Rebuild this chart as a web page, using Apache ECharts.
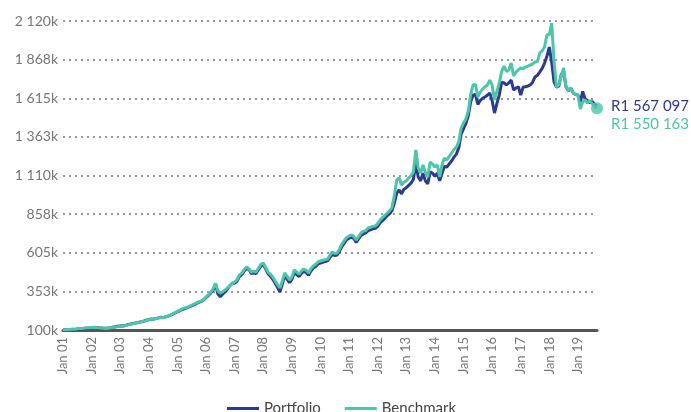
<!DOCTYPE html>
<html>
<head>
<meta charset="utf-8">
<script src="https://cdn.jsdelivr.net/npm/echarts@6/dist/echarts.min.js"></script>
<style>
  html, body { margin: 0; padding: 0; background: #fff; }
  #chart { width: 691px; height: 412px; }
</style>
</head>
<body>
<div id="chart"></div>
<script>
// values in thousands (R k), monthly Jan 2001 .. Sep 2019
const years = ['01','02','03','04','05','06','07','08','09','10','11','12','13','14','15','16','17','18','19'];
const months = ['Jan','Feb','Mar','Apr','May','Jun','Jul','Aug','Sep','Oct','Nov','Dec'];
const lastMonths = 9; // 2019 runs to Sep

const portfolio = [
  100, 101, 100, 102, 104, 104, 106, 108, 107, 110, 112, 112,
  114, 116, 116, 114, 113, 112, 111, 113, 115, 118, 121, 124,
  127, 126, 129, 134, 138, 141, 144, 147, 151, 155, 159, 164,
  168, 172, 171, 176, 179, 183, 181, 186, 191, 197, 204, 212,
  218, 226, 234, 240, 245, 252, 258, 266, 274, 280, 287, 296,
  312, 325, 342, 362, 398, 335, 318, 335, 350, 368, 390, 405,
  406, 420, 450, 462, 485, 502, 495, 470, 472, 470, 495, 518,
  528, 500, 468, 452, 432, 405, 378, 348, 400, 455, 432, 410,
  430, 475, 462, 450, 470, 485, 475, 458, 486, 505, 515, 532,
  538, 542, 548, 552, 575, 595, 587, 590, 615, 645, 668, 690,
  700, 706, 698, 672, 695, 718, 728, 735, 750, 755, 762, 765,
  778, 800, 815, 830, 848, 860, 880, 930, 995, 1015, 990, 1020,
  1030, 1045, 1060, 1085, 1190, 1100, 1075, 1125, 1075, 1055, 1135, 1125,
  1105, 1125, 1075, 1125, 1170, 1165, 1185, 1205, 1230, 1250, 1290, 1380,
  1415, 1450, 1500, 1590, 1636, 1640, 1575, 1600, 1615, 1623, 1635, 1649,
  1600, 1518, 1580, 1636, 1720, 1715, 1702, 1715, 1734, 1669, 1682, 1690,
  1636, 1688, 1690, 1695, 1702, 1720, 1754, 1765, 1787, 1810, 1845, 1890,
  1950, 1850, 1720, 1688, 1695, 1770, 1790, 1688, 1665, 1680, 1650, 1640,
  1636, 1590, 1660, 1610, 1600, 1585, 1595, 1575, 1567.097
];

const benchmark = [
  100, 102, 101, 104, 106, 105, 108, 110, 109, 113, 115, 114,
  116, 118, 117, 114, 113, 112, 110, 112, 114, 116, 119, 122,
  126, 124, 128, 133, 137, 140, 143, 146, 150, 154, 158, 163,
  167, 172, 170, 175, 178, 182, 180, 185, 190, 197, 205, 215,
  222, 230, 238, 244, 248, 255, 262, 270, 278, 283, 290, 300,
  316, 330, 348, 370, 405, 355, 342, 350, 362, 375, 390, 405,
  414, 428, 460, 472, 495, 512, 500, 479, 485, 479, 505, 530,
  538, 510, 479, 465, 446, 420, 395, 375, 420, 473, 450, 427,
  445, 492, 480, 466, 485, 499, 490, 473, 500, 518, 530, 545,
  551, 556, 560, 564, 590, 610, 600, 603, 630, 662, 685, 705,
  715, 721, 712, 688, 710, 734, 745, 750, 767, 772, 778, 780,
  795, 819, 835, 850, 865, 880, 900, 980, 1080, 1095, 1048, 1067,
  1075, 1094, 1110, 1133, 1277, 1160, 1126, 1179, 1130, 1100, 1198, 1185,
  1166, 1179, 1100, 1180, 1224, 1211, 1235, 1257, 1280, 1296, 1330, 1420,
  1453, 1480, 1530, 1640, 1702, 1705, 1623, 1655, 1675, 1690, 1700, 1734,
  1700, 1604, 1660, 1715, 1790, 1825, 1790, 1800, 1845, 1760, 1785, 1800,
  1813, 1808, 1819, 1825, 1832, 1840, 1852, 1855, 1911, 1925, 1950, 2030,
  2030, 2107, 1850, 1688, 1702, 1760, 1813, 1688, 1669, 1682, 1650, 1640,
  1636, 1545, 1590, 1604, 1584, 1600, 1580, 1560, 1550.163
];

const yMin = 100, yMax = 2120, yStep = 252.5;

const categories = [];
years.forEach((y, i) => {
  const n = i === years.length - 1 ? lastMonths : 12;
  for (let m = 0; m < n; m++) categories.push(months[m] + ' ' + y);
});

function spaced(n) {
  return String(n).replace(/\B(?=(\d{3})+(?!\d))/g, ' ');
}

const navy = '#2e3a92';
const teal = '#4cc5a9';
const font = 'Lato';

const chart = echarts.init(document.getElementById('chart'));
const lastIdx = categories.length - 1;

chart.setOption({
  animation: false,
  textStyle: { fontFamily: font },
  grid: { left: 63, right: 94, top: 21, bottom: 82, containLabel: false },
  legend: {
    data: ['Portfolio', 'Benchmark'],
    top: 396,
    left: 222,
    icon: 'rect',
    itemWidth: 32,
    itemHeight: 3,
    itemGap: 24,
    textStyle: { fontSize: 15, color: '#444', fontFamily: font }
  },
  xAxis: {
    type: 'category',
    boundaryGap: false,
    data: categories,
    axisLine: { lineStyle: { color: '#555', width: 3 } },
    axisTick: { show: false },
    axisLabel: {
      rotate: 90,
      interval: (i) => i % 12 === 0,
      color: '#777',
      fontSize: 13,
      margin: 7
    },
    splitLine: { show: false }
  },
  yAxis: {
    type: 'value',
    min: 0,
    max: yMax - yMin,
    interval: yStep,
    axisLine: { show: false },
    axisTick: { show: false },
    axisLabel: {
      color: '#777',
      fontSize: 14,
      margin: 5,
      formatter: (v) => spaced(Math.round(v + yMin)) + 'k'
    },
    splitLine: { lineStyle: { color: '#9a9a9a', width: 2, type: [2, 4] } }
  },
  series: [
    {
      name: 'Portfolio',
      type: 'line',
      data: portfolio.map(v => v - yMin),
      showSymbol: false,
      lineStyle: { color: navy, width: 3 },
      itemStyle: { color: navy },
      endLabel: {
        show: true,
        offset: [6, 1],
        color: navy,
        fontSize: 15,
        fontFamily: font,
        formatter: (p) => 'R' + spaced(Math.round(portfolio[lastIdx] * 1000))
      },
      z: 2
    },
    {
      name: 'Benchmark',
      type: 'line',
      data: benchmark.map(v => v - yMin),
      showSymbol: false,
      lineStyle: { color: teal, width: 3 },
      itemStyle: { color: teal },
      endLabel: {
        show: true,
        offset: [6, 16],
        color: teal,
        fontSize: 15,
        fontFamily: font,
        formatter: (p) => 'R' + spaced(Math.round(benchmark[lastIdx] * 1000))
      },
      z: 3
    },
    {
      name: 'end',
      type: 'scatter',
      data: [[lastIdx, benchmark[lastIdx] - yMin]],
      symbolSize: 12,
      itemStyle: { color: teal },
      silent: true,
      z: 4
    }
  ]
});
</script>
</body>
</html>
